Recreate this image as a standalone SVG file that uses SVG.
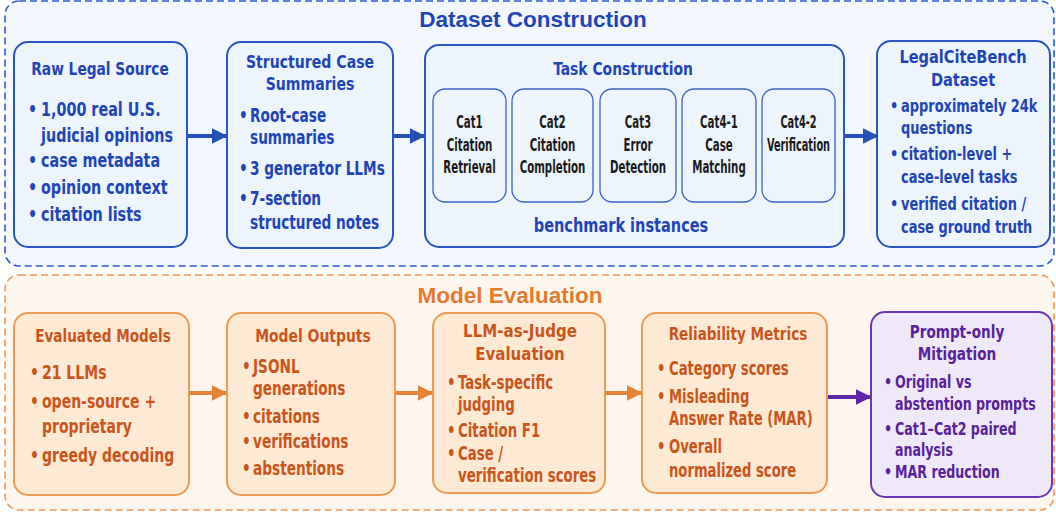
<svg xmlns="http://www.w3.org/2000/svg" width="1056" height="512" viewBox="0 0 1056 512">
<defs>
<style>
text{font-family:"DejaVu Sans","Liberation Sans",sans-serif;font-weight:bold;font-stretch:condensed}
.bt{fill:#1f45b6}
.ot{fill:#c9561d}
.pt{fill:#57229c}
.kt{fill:#1a1a1a;font-size:17px;text-anchor:middle}
.h{font-size:18px;text-anchor:middle}
.b{font-size:19px}
.bs{font-size:17px}
.ttl{font-family:"Liberation Sans","DejaVu Sans",sans-serif;font-stretch:normal;font-size:22.5px;text-anchor:middle}
.bbox{fill:#eef4fc;stroke:#2b55c0;stroke-width:2}
.cbox{fill:#eef4fc;stroke:#3d62c4;stroke-width:1.3}
.obox{fill:#fde9d4;stroke:#ee9a55;stroke-width:2}
.pbox{fill:#efe8f8;stroke:#6a36b4;stroke-width:2}
</style>
<marker id="ab" viewBox="0 0 10 10" refX="9" refY="5" markerWidth="4" markerHeight="4" markerUnits="strokeWidth" orient="auto"><path d="M0,0 L10,5 L0,10 z" fill="#2650b8"/></marker>
<marker id="ao" viewBox="0 0 10 10" refX="9" refY="5" markerWidth="4" markerHeight="4" markerUnits="strokeWidth" orient="auto"><path d="M0,0 L10,5 L0,10 z" fill="#e5833a"/></marker>
<marker id="ap" viewBox="0 0 10 10" refX="9" refY="5" markerWidth="4" markerHeight="4" markerUnits="strokeWidth" orient="auto"><path d="M0,0 L10,5 L0,10 z" fill="#5d27a8"/></marker>
</defs>
<rect width="1056" height="512" fill="#ffffff"/>
<g id="panel-dataset">
<rect x="5" y="1" width="1049" height="265" rx="14" fill="#f3f7fd" stroke="#2d5bd0" stroke-width="1.6" stroke-dasharray="7 4"/>
<text x="533" y="27" class="ttl bt">Dataset Construction</text>
</g>
<g id="panel-eval">
<rect x="5" y="275" width="1049" height="235" rx="14" fill="#fef6ee" stroke="#f0985a" stroke-width="1.6" stroke-dasharray="7 4"/>
<text x="510" y="303" class="ttl" style="fill:#e27a30">Model Evaluation</text>
</g>
<g id="connectors">
<line x1="187" y1="136" x2="226" y2="136" stroke="#2650b8" stroke-width="4" marker-end="url(#ab)"/>
<line x1="393" y1="136" x2="424" y2="136" stroke="#2650b8" stroke-width="4" marker-end="url(#ab)"/>
<line x1="844" y1="136" x2="877" y2="136" stroke="#2650b8" stroke-width="4" marker-end="url(#ab)"/>
<line x1="189" y1="393" x2="226" y2="393" stroke="#e5833a" stroke-width="4" marker-end="url(#ao)"/>
<line x1="395" y1="393" x2="432" y2="393" stroke="#e5833a" stroke-width="4" marker-end="url(#ao)"/>
<line x1="605" y1="393" x2="641" y2="393" stroke="#e5833a" stroke-width="4" marker-end="url(#ao)"/>
<line x1="827" y1="397" x2="870" y2="397" stroke="#5d27a8" stroke-width="4" marker-end="url(#ap)"/>
</g>
<g id="raw-legal-source">
<rect x="14" y="42" width="173" height="205" rx="14" class="bbox"/>
<text transform="translate(100,0) scale(0.85,1)" x="0" y="75" class="bt h">Raw Legal Source</text>
<text transform="translate(41,0) scale(0.84,1)" class="bt b"><tspan x="-15.5" y="116">•</tspan><tspan x="0" y="116">1,000 real U.S.</tspan><tspan x="0" y="142">judicial opinions</tspan><tspan x="-15.5" y="167">•</tspan><tspan x="0" y="167">case metadata</tspan><tspan x="-15.5" y="194">•</tspan><tspan x="0" y="194">opinion context</tspan><tspan x="-15.5" y="221">•</tspan><tspan x="0" y="221">citation lists</tspan></text>
</g>
<g id="structured-summaries">
<rect x="227" y="42" width="166" height="206" rx="14" class="bbox"/>
<text transform="translate(310,0) scale(0.87,1)" class="bt h"><tspan x="0" y="68">Structured Case</tspan><tspan x="0" y="90">Summaries</tspan></text>
<text transform="translate(250,0) scale(0.8,1)" class="bt b"><tspan x="-13.75" y="122">•</tspan><tspan x="0" y="122">Root-case</tspan><tspan x="0" y="144">summaries</tspan><tspan x="-13.75" y="175">•</tspan><tspan x="0" y="175">3 generator LLMs</tspan><tspan x="-13.75" y="205">•</tspan><tspan x="0" y="205">7-section</tspan><tspan x="0" y="229">structured notes</tspan></text>
</g>
<g id="task-construction">
<rect x="425" y="45" width="419" height="202" rx="14" class="bbox"/>
<text transform="translate(623,0) scale(0.86,1)" x="0" y="75" class="bt h">Task Construction</text>
<text transform="translate(621,0) scale(0.85,1)" x="0" y="232" class="bt h" style="font-size:19px">benchmark instances</text>
</g>
<g id="cat1">
<rect x="433" y="89" width="73" height="113" rx="12" class="cbox"/>
<text transform="translate(469.5,0) scale(0.67,1)" class="kt"><tspan x="0" y="128">Cat1</tspan><tspan x="0" y="151">Citation</tspan><tspan x="0" y="173">Retrieval</tspan></text>
</g>
<g id="cat2">
<rect x="512" y="89" width="81" height="113" rx="12" class="cbox"/>
<text transform="translate(552.5,0) scale(0.67,1)" class="kt"><tspan x="0" y="128">Cat2</tspan><tspan x="0" y="151">Citation</tspan><tspan x="0" y="173">Completion</tspan></text>
</g>
<g id="cat3">
<rect x="600" y="89" width="76" height="113" rx="12" class="cbox"/>
<text transform="translate(638,0) scale(0.67,1)" class="kt"><tspan x="0" y="128">Cat3</tspan><tspan x="0" y="151">Error</tspan><tspan x="0" y="173">Detection</tspan></text>
</g>
<g id="cat4-1">
<rect x="682" y="89" width="74" height="113" rx="12" class="cbox"/>
<text transform="translate(719,0) scale(0.67,1)" class="kt"><tspan x="0" y="128">Cat4-1</tspan><tspan x="0" y="151">Case</tspan><tspan x="0" y="173">Matching</tspan></text>
</g>
<g id="cat4-2">
<rect x="762" y="89" width="73" height="113" rx="12" class="cbox"/>
<text transform="translate(798.5,0) scale(0.64,1)" class="kt"><tspan x="0" y="128">Cat4-2</tspan><tspan x="0" y="151">Verification</tspan></text>
</g>
<g id="legalcitebench">
<rect x="877" y="41" width="173" height="206" rx="14" class="bbox"/>
<text transform="translate(963,0) scale(0.9,1)" class="bt h"><tspan x="0" y="63">LegalCiteBench</tspan><tspan x="0" y="86">Dataset</tspan></text>
<text transform="translate(901,0) scale(0.8,1)" class="bt bs" style="font-size:18px"><tspan x="-13.75" y="112">•</tspan><tspan x="0" y="112">approximately 24k</tspan><tspan x="0" y="134">questions</tspan><tspan x="-13.75" y="160">•</tspan><tspan x="0" y="160">citation-level +</tspan><tspan x="0" y="183">case-level tasks</tspan><tspan x="-13.75" y="210">•</tspan><tspan x="0" y="210">verified citation /</tspan><tspan x="0" y="233">case ground truth</tspan></text>
</g>
<g id="evaluated-models">
<rect x="14" y="313" width="175" height="182" rx="14" class="obox"/>
<text transform="translate(103,0) scale(0.84,1)" x="0" y="342" class="ot h">Evaluated Models</text>
<text transform="translate(42,0) scale(0.82,1)" class="ot b"><tspan x="-14.6" y="379">•</tspan><tspan x="0" y="379">21 LLMs</tspan><tspan x="-14.6" y="408">•</tspan><tspan x="0" y="408">open-source +</tspan><tspan x="0" y="433">proprietary</tspan><tspan x="-14.6" y="462">•</tspan><tspan x="0" y="462">greedy decoding</tspan></text>
</g>
<g id="model-outputs">
<rect x="227" y="313" width="168" height="182" rx="14" class="obox"/>
<text transform="translate(313,0) scale(0.86,1)" x="0" y="342" class="ot h">Model Outputs</text>
<text transform="translate(253,0) scale(0.8,1)" class="ot b"><tspan x="-13.75" y="373">•</tspan><tspan x="0" y="373">JSONL</tspan><tspan x="0" y="395">generations</tspan><tspan x="-13.75" y="423">•</tspan><tspan x="0" y="423">citations</tspan><tspan x="-13.75" y="448">•</tspan><tspan x="0" y="448">verifications</tspan><tspan x="-13.75" y="475">•</tspan><tspan x="0" y="475">abstentions</tspan></text>
</g>
<g id="llm-judge">
<rect x="433" y="313" width="172" height="180" rx="14" class="obox"/>
<text transform="translate(520,0) scale(0.93,1)" class="ot h"><tspan x="0" y="337">LLM-as-Judge</tspan><tspan x="0" y="360">Evaluation</tspan></text>
<text transform="translate(458,0) scale(0.78,1)" class="ot b"><tspan x="-14.1" y="389">•</tspan><tspan x="0" y="389">Task-specific</tspan><tspan x="0" y="411">judging</tspan><tspan x="-14.1" y="437">•</tspan><tspan x="0" y="437">Citation F1</tspan><tspan x="-14.1" y="460">•</tspan><tspan x="0" y="460">Case /</tspan><tspan x="0" y="482">verification scores</tspan></text>
</g>
<g id="reliability-metrics">
<rect x="642" y="313" width="185" height="180" rx="14" class="obox"/>
<text transform="translate(738,0) scale(0.84,1)" x="0" y="340" class="ot h">Reliability Metrics</text>
<text transform="translate(669,0) scale(0.77,1)" class="ot b"><tspan x="-15.6" y="375">•</tspan><tspan x="0" y="375">Category scores</tspan><tspan x="-15.6" y="403">•</tspan><tspan x="0" y="403">Misleading</tspan><tspan x="0" y="425">Answer Rate (MAR)</tspan><tspan x="-15.6" y="453">•</tspan><tspan x="0" y="453">Overall</tspan><tspan x="0" y="477">normalized score</tspan></text>
</g>
<g id="prompt-mitigation">
<rect x="871" y="312" width="181" height="185" rx="14" class="pbox"/>
<text transform="translate(957,0) scale(0.84,1)" class="pt h"><tspan x="0" y="338">Prompt-only</tspan><tspan x="0" y="360">Mitigation</tspan></text>
<text transform="translate(895,0) scale(0.78,1)" class="pt bs" style="font-size:18px"><tspan x="-14.1" y="388">•</tspan><tspan x="0" y="388">Original vs</tspan><tspan x="0" y="410">abstention prompts</tspan><tspan x="-14.1" y="435">•</tspan><tspan x="0" y="435">Cat1–Cat2 paired</tspan><tspan x="0" y="456">analysis</tspan><tspan x="-14.1" y="478">•</tspan><tspan x="0" y="478">MAR reduction</tspan></text>
</g>
</svg>
